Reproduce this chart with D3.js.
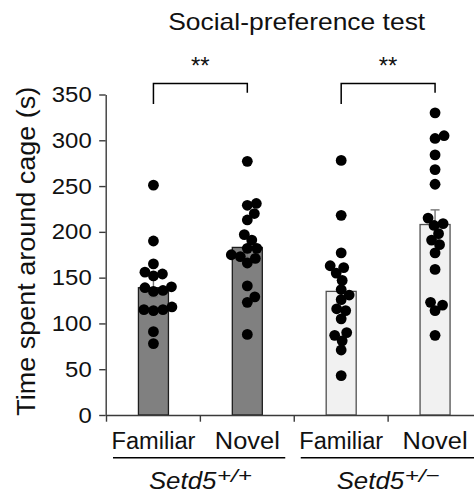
<!DOCTYPE html>
<html>
<head>
<meta charset="utf-8">
<script src="https://cdn.jsdelivr.net/npm/d3@7"></script>
<style>
  body { margin: 0; background: #fff; }
  text { font-family: "Liberation Sans", Arial, sans-serif; fill: #111; }
</style>
</head>
<body>
<svg id="chart" width="474" height="503"></svg>
<script>
// ---------------- data ----------------
const groupKeys   = ["wtFamiliar", "wtNovel", "hetFamiliar", "hetNovel"];
const categories  = ["Familiar", "Novel", "Familiar", "Novel"];
const genotypes   = ["Setd5", "Setd5"];
const superscripts = ["+/+", "+/\u2212"];
const means = [139, 183, 135, 208];
const sems  = [10, 11, 12, 16];
const wtFamiliar  = [251, 190, 165, 154, 156, 152, 140, 135, 139, 136, 114, 115, 118, 115, 91, 78];
const wtNovel     = [277, 231, 229, 220, 213, 197, 191, 182, 182, 171, 173, 175, 166, 141, 129, 123, 88];
const hetFamiliar = [278, 218, 177, 161, 163, 155, 147, 137, 126, 131, 114, 116, 105, 87, 90, 81, 71, 43];
const hetNovel    = [330, 302, 305, 284, 268, 252, 215, 207, 209, 198, 191, 186, 177, 159, 120, 123, 114, 87];
const yTicks = [0, 50, 100, 150, 200, 250, 300, 350];
const sigLabels = ["**", "**"];
const title = "Social-preference test";
const yLabel = "Time spent around cage (s)";

const points = [wtFamiliar, wtNovel, hetFamiliar, hetNovel];

// ---------------- layout ----------------
const svg = d3.select("#chart");
const axisColor = "#3a3a3a";
const y = d3.scaleLinear().domain([0, 350]).range([415, 94.5]);
const x = d3.scaleBand().domain(groupKeys).range([106.5, 482]).padding(0);
const step = x.step();
const barW = 30;
const fills   = ["#808080", "#808080", "#f1f1f1", "#f1f1f1"];
const strokes = ["#1e1e1e", "#1e1e1e", "#505050", "#505050"];
const cx = k => x(k) + x.bandwidth() / 2;

// title
svg.append("text")
  .attr("x", 296.7).attr("y", 29.5)
  .attr("text-anchor", "middle")
  .attr("font-size", 24)
  .attr("textLength", 257).attr("lengthAdjust", "spacingAndGlyphs")
  .text(title);

// y label
svg.append("text")
  .attr("transform", "translate(35,251.3) rotate(-90)")
  .attr("text-anchor", "middle")
  .attr("font-size", 26.5)
  .attr("textLength", 329).attr("lengthAdjust", "spacingAndGlyphs")
  .text(yLabel);

// bars
svg.append("g").selectAll("rect")
  .data(groupKeys)
  .join("rect")
  .attr("x", d => cx(d) - barW / 2)
  .attr("width", barW)
  .attr("y", (d, i) => y(means[i]))
  .attr("height", (d, i) => y(0) - y(means[i]))
  .attr("fill", (d, i) => fills[i])
  .attr("stroke", (d, i) => strokes[i])
  .attr("stroke-width", 1.3);

// error bars
const eb = svg.append("g").attr("stroke", "#747474").attr("stroke-width", 1.4).attr("fill", "none");
groupKeys.forEach((k, i) => {
  const c = cx(k), top = y(means[i] + sems[i]), bot = y(means[i] - sems[i]);
  eb.append("line").attr("x1", c).attr("x2", c).attr("y1", top).attr("y2", bot);
  eb.append("line").attr("x1", c - 4.5).attr("x2", c + 4.5).attr("y1", top).attr("y2", top);
  eb.append("line").attr("x1", c - 4.5).attr("x2", c + 4.5).attr("y1", bot).attr("y2", bot);
});

// beeswarm dots
const r = 5.4;
const minDist = 2 * r * 0.85;
function swarm(values, center) {
  const placed = [];
  const sorted = values.map(v => v).sort((a, b) => a - b);
  sorted.forEach(v => {
    const py = y(v);
    let off = 0;
    for (let n = 0; n < 400; n++) {
      const cand = n === 0 ? 0 : (n % 2 === 1 ? 1 : -1) * Math.ceil(n / 2) * 0.5;
      const ok = placed.every(p => Math.hypot(p.x - (center + cand), p.y - py) >= minDist);
      if (ok) { off = cand; break; }
    }
    placed.push({ x: center + off, y: py });
  });
  return placed;
}
const dotG = svg.append("g");
groupKeys.forEach((k, i) => {
  dotG.selectAll(null)
    .data(swarm(points[i], cx(k)))
    .join("circle")
    .attr("cx", d => d.x).attr("cy", d => d.y).attr("r", r)
    .attr("fill", "#000");
});

// y axis
const yAxis = svg.append("g")
  .attr("transform", "translate(105.7,0)")
  .call(d3.axisLeft(y).tickValues(yTicks).tickSize(6.5).tickSizeOuter(0).tickPadding(7.5));
yAxis.select(".domain").attr("stroke", axisColor).attr("stroke-width", 1.4);
yAxis.selectAll(".tick line").attr("stroke", axisColor).attr("stroke-width", 1.4);
yAxis.selectAll(".tick text")
  .attr("font-size", 22).attr("fill", "#111")
  .style("font-family", '"Liberation Sans", Arial, sans-serif')
  .each(function(d) {
    const s = String(d);
    d3.select(this).attr("textLength", s.length * 13.3).attr("lengthAdjust", "spacingAndGlyphs");
  });

// x axis
const xAxis = svg.append("g")
  .attr("transform", "translate(0,415)")
  .call(d3.axisBottom(x).tickSize(6.7).tickSizeOuter(0).tickPadding(11)
        .tickFormat((d, i) => categories[i]));
xAxis.select(".domain").attr("stroke", axisColor).attr("stroke-width", 1.4);
xAxis.selectAll(".tick line")
  .attr("x1", -step / 2).attr("x2", -step / 2)
  .attr("stroke", axisColor).attr("stroke-width", 1.4);
xAxis.selectAll(".tick text")
  .attr("font-size", 23.5).attr("fill", "#111")
  .style("font-family", '"Liberation Sans", Arial, sans-serif')
  .each(function(d, i) {
    d3.select(this).attr("textLength", categories[i] === "Familiar" ? 84 : 65)
      .attr("lengthAdjust", "spacingAndGlyphs");
  });

// genotype group lines and labels
const groups = [[groupKeys[0], groupKeys[1]], [groupKeys[2], groupKeys[3]]];
groups.forEach((g, gi) => {
  const left = x(g[0]) + 6.5;
  const right = gi === 0 ? x(g[1]) + step - 9 : 480;
  svg.append("line")
    .attr("x1", left).attr("x2", right)
    .attr("y1", 457.7).attr("y2", 457.7)
    .attr("stroke", "#000").attr("stroke-width", 1.6);
  const c = (cx(g[0]) + cx(g[1])) / 2;
  svg.append("text")
    .attr("x", c - 51.5).attr("y", 489)
    .attr("font-size", 24).attr("font-style", "italic")
    .attr("textLength", 67.5).attr("lengthAdjust", "spacingAndGlyphs")
    .text(genotypes[gi]);
  svg.append("text")
    .attr("x", c + 16.5).attr("y", 482)
    .attr("font-size", 19).attr("font-style", "italic")
    .attr("textLength", 35).attr("lengthAdjust", "spacingAndGlyphs")
    .text(superscripts[gi]);
});

// significance brackets
const brG = svg.append("g").attr("stroke", "#000").attr("stroke-width", 1.5).attr("fill", "none");
groups.forEach((g, gi) => {
  const x1 = cx(g[0]), x2 = cx(g[1]);
  const top = y(362), leftEnd = y(339.5), rightEnd = y(352);
  brG.append("path")
    .attr("d", `M${x1},${leftEnd}V${top}H${x2}V${rightEnd}`);
  svg.append("text")
    .attr("x", (x1 + x2) / 2).attr("y", 74)
    .attr("text-anchor", "middle")
    .attr("font-size", 24)
    .text(sigLabels[gi]);
});
</script>
</body>
</html>
